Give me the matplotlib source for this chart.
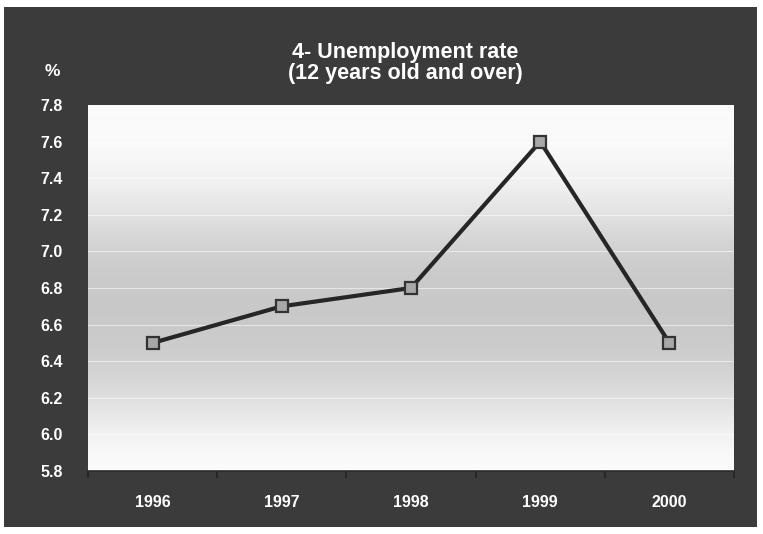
import numpy as np
import matplotlib
matplotlib.use("Agg")
import matplotlib.pyplot as plt
from matplotlib.patches import Rectangle
from matplotlib.colors import LinearSegmentedColormap

years = ["1996", "1997", "1998", "1999", "2000"]
rate = [6.5, 6.7, 6.8, 7.6, 6.5]
yticks = [5.8, 6.0, 6.2, 6.4, 6.6, 6.8, 7.0, 7.2, 7.4, 7.6, 7.8]

plt.rcParams['font.family'] = ['Liberation Sans', 'DejaVu Sans']

W, H = 763, 534
fig = plt.figure(figsize=(W/100, H/100), dpi=100, facecolor='white')
fig.patches.append(Rectangle((4/W, 7/H), (757-4)/W, (527-7)/H, transform=fig.transFigure,
                             facecolor='#3b3b3b', edgecolor='none', zorder=-5))

ax = fig.add_axes([88/W, 1-471/H, (734-88)/W, (471-105)/H])
ax.set_zorder(2)
ax.set_xlim(-0.5, 4.5)
ax.set_ylim(5.8, 7.8)

# vertical gradient background
grad = np.array([0.0, 0.35, 0.75, 0.95, 1.0, 0.95, 0.7, 0.3, 0.05, 0.0]).reshape(-1, 1)
cmap = LinearSegmentedColormap.from_list('g', ['#fbfbfb', '#c8c8c8'])
ax.imshow(grad, aspect='auto', cmap=cmap, extent=[-0.5, 4.5, 5.8, 7.8], origin='lower',
          interpolation='bicubic', zorder=0, vmin=0, vmax=1)

for yv in yticks[1:-1]:
    ax.axhline(yv, color='white', lw=0.8, alpha=0.55, zorder=1)

x = np.arange(len(years))
ax.plot(x, rate, color='#262626', lw=3.0, zorder=3, solid_joinstyle='miter')
ax.plot(x, rate, linestyle='none', marker='s', markersize=8, markerfacecolor='#a8a8a8',
        markeredgecolor='#333333', markeredgewidth=1.6, zorder=4)

for s in ax.spines.values():
    s.set_visible(False)
ax.spines['bottom'].set_visible(True)
ax.spines['bottom'].set_color('#2b2b2b')
ax.spines['bottom'].set_linewidth(1.2)

ax.set_yticks(yticks)
ax.set_yticklabels([f"{v:.1f}" for v in yticks])
ax.tick_params(axis='y', length=0, pad=34.5, labelsize=11.5, labelcolor='white')
for lbl in ax.get_yticklabels():
    lbl.set_fontweight('bold')
    lbl.set_horizontalalignment('left')

ax.set_xticks(x)
ax.set_xticklabels(years)
ax.tick_params(axis='x', which='major', length=0, pad=17, labelsize=11.5, labelcolor='white')
for lbl in ax.get_xticklabels():
    lbl.set_fontweight('bold')
ax.set_xticks(np.arange(-0.5, 5, 1), minor=True)
ax.tick_params(axis='x', which='minor', length=5, width=1.2, color='#222222', direction='out')

fig.text(405/W, 1-63/H, "4- Unemployment rate\n(12 years old and over)", ha='center', va='center',
         color='white', fontsize=15.5, fontweight='bold', linespacing=1.05)
fig.text(52/W, 1-71/H, "%", ha='center', va='center', color='white', fontsize=12.5, fontweight='bold')

fig.savefig('out.png', dpi=100, facecolor='white')
